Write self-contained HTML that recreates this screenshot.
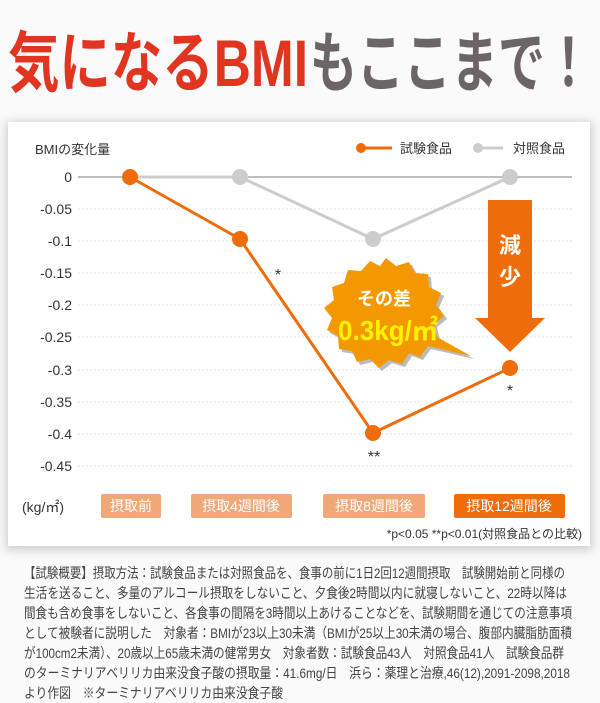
<!DOCTYPE html>
<html><head><meta charset="utf-8"><style>
html,body{margin:0;padding:0;background:#fafafa;}
svg{display:block;font-family:"Liberation Sans","Noto Sans CJK JP",sans-serif;}
</style></head><body>
<svg width="600" height="703" viewBox="0 0 600 703" xmlns="http://www.w3.org/2000/svg">
<defs>
<filter id="sh" x="-5%" y="-5%" width="110%" height="110%"><feGaussianBlur stdDeviation="5"/></filter>
</defs>
<rect width="600" height="703" fill="#fafafa"/>
<text x="8" y="86" font-size="66" font-weight="bold" fill="#e03520" textLength="300" lengthAdjust="spacingAndGlyphs">気になるBMI</text>
<text x="310" y="86" font-size="66" font-weight="bold" fill="#6b6567" textLength="282" lengthAdjust="spacingAndGlyphs">もここまで！</text>
<rect x="6" y="122" width="586" height="428" fill="#ccc" filter="url(#sh)"/>
<rect x="8" y="122" width="582" height="424" fill="#fff"/>
<text x="35" y="154" font-size="13" fill="#333">BMIの変化量</text>
<line x1="361" y1="148" x2="392" y2="148" stroke="#ee6d0a" stroke-width="3"/>
<circle cx="361" cy="148" r="5" fill="#ee6d0a"/>
<text x="400" y="153" font-size="13" fill="#333">試験食品</text>
<line x1="478" y1="148" x2="503" y2="148" stroke="#ccc" stroke-width="3"/>
<circle cx="478" cy="148" r="5" fill="#ccc"/>
<text x="513" y="153" font-size="13" fill="#333">対照食品</text>
<g stroke="#d8d8d8" stroke-width="1" stroke-dasharray="1.5 2.5">
<line x1="78" y1="209" x2="572" y2="209"/><line x1="78" y1="241" x2="572" y2="241"/>
<line x1="78" y1="273" x2="572" y2="273"/><line x1="78" y1="305" x2="572" y2="305"/>
<line x1="78" y1="337" x2="572" y2="337"/><line x1="78" y1="370" x2="572" y2="370"/>
<line x1="78" y1="402" x2="572" y2="402"/><line x1="78" y1="434" x2="572" y2="434"/>
<line x1="78" y1="466" x2="572" y2="466"/>
</g>
<line x1="78" y1="177" x2="572" y2="177" stroke="#aaa" stroke-width="1.5"/>
<g font-size="14" fill="#333" text-anchor="end">
<text x="72" y="182">0</text><text x="72" y="214">-0.05</text><text x="72" y="246">-0.1</text>
<text x="72" y="278">-0.15</text><text x="72" y="310">-0.2</text><text x="72" y="342">-0.25</text>
<text x="72" y="375">-0.3</text><text x="72" y="407">-0.35</text><text x="72" y="439">-0.4</text>
<text x="72" y="471">-0.45</text>
</g>
<polyline points="130,177 240,177 373,239 510,177" fill="none" stroke="#ccc" stroke-width="3"/>
<circle cx="240" cy="177" r="8" fill="#ccc"/><circle cx="373" cy="239" r="8" fill="#ccc"/><circle cx="510" cy="177" r="8" fill="#ccc"/>
<polyline points="130,177 240,239 373,433 510,368" fill="none" stroke="#ee6d0a" stroke-width="3"/>
<circle cx="130" cy="177" r="8" fill="#ee6d0a"/><circle cx="240" cy="239" r="8" fill="#ee6d0a"/>
<circle cx="373" cy="433" r="8" fill="#ee6d0a"/><circle cx="510" cy="368" r="8" fill="#ee6d0a"/>
<g font-size="16" fill="#333" text-anchor="middle">
<text x="278" y="280">*</text><text x="374" y="462">**</text><text x="510" y="396">*</text>
</g>
<polygon points="488,200 532,200 532,318 545,318 510,352 475,318 488,318" fill="#ee6d0a"/>
<text x="510" y="253" font-size="22" font-weight="bold" fill="#fff" text-anchor="middle">減</text>
<text x="510" y="285" font-size="22" font-weight="bold" fill="#fff" text-anchor="middle">少</text>
<polygon transform="translate(3,3)" fill="#bbb" points="386,258 396,266 409,262 415,273 428,274 429,287 441,293 436,305 444,316 434,324 437,337 471,356 428,346 420,357 409,353 402,364 389,360 379,368 370,359 357,362 352,351 339,349 338,336 327,330 332,318 324,308 334,300 332,287 344,283 348,270 361,271 370,261 380,266"/>
<polygon fill="#f39800" points="386,258 396,266 409,262 415,273 428,274 429,287 441,293 436,305 444,316 434,324 437,337 471,356 428,346 420,357 409,353 402,364 389,360 379,368 370,359 357,362 352,351 339,349 338,336 327,330 332,318 324,308 334,300 332,287 344,283 348,270 361,271 370,261 380,266"/>
<text x="384" y="305" font-size="18" font-weight="bold" fill="#fff" text-anchor="middle">その差</text>
<text x="338" y="340" font-size="28" font-weight="bold" fill="#fff200" textLength="100" lengthAdjust="spacingAndGlyphs">0.3kg/㎡</text>
<text x="22" y="512" font-size="14" fill="#333">(kg/㎡)</text>
<rect x="101" y="494" width="60" height="24" rx="2" fill="#f0a878"/>
<text x="131" y="511" font-size="14" fill="#fff" text-anchor="middle">摂取前</text>
<rect x="191" y="494" width="101" height="24" rx="2" fill="#f0a878"/>
<text x="241" y="511" font-size="14" fill="#fff" text-anchor="middle">摂取4週間後</text>
<rect x="323" y="494" width="102" height="24" rx="2" fill="#f0a878"/>
<text x="374" y="511" font-size="14" fill="#fff" text-anchor="middle">摂取8週間後</text>
<rect x="454" y="494" width="111" height="24" rx="2" fill="#ee6d0a"/>
<text x="509" y="511" font-size="14" fill="#fff" text-anchor="middle">摂取12週間後</text>
<text x="582" y="538" font-size="12" fill="#333" text-anchor="end">*p&lt;0.05 **p&lt;0.01(対照食品との比較)</text>
<g font-size="14" fill="#444">
<text x="24" y="578" textLength="541" lengthAdjust="spacingAndGlyphs">【試験概要】摂取方法：試験食品または対照食品を、食事の前に1日2回12週間摂取　試験開始前と同様の</text>
<text x="24" y="598" textLength="543" lengthAdjust="spacingAndGlyphs">生活を送ること、多量のアルコール摂取をしないこと、夕食後2時間以内に就寝しないこと、22時以降は</text>
<text x="24" y="618" textLength="548" lengthAdjust="spacingAndGlyphs">間食も含め食事をしないこと、各食事の間隔を3時間以上あけることなどを、試験期間を通じての注意事項</text>
<text x="24" y="638" textLength="548" lengthAdjust="spacingAndGlyphs">として被験者に説明した　対象者：BMIが23以上30未満（BMIが25以上30未満の場合、腹部内臓脂肪面積</text>
<text x="24" y="658" textLength="540" lengthAdjust="spacingAndGlyphs">が100cm2未満）、20歳以上65歳未満の健常男女　対象者数：試験食品43人　対照食品41人　試験食品群</text>
<text x="24" y="678" textLength="546" lengthAdjust="spacingAndGlyphs">のターミナリアベリリカ由来没食子酸の摂取量：41.6mg/日　浜ら：薬理と治療,46(12),2091-2098,2018</text>
<text x="24" y="698" textLength="259" lengthAdjust="spacingAndGlyphs">より作図　※ターミナリアベリリカ由来没食子酸</text>
</g>
</svg>
</body></html>
